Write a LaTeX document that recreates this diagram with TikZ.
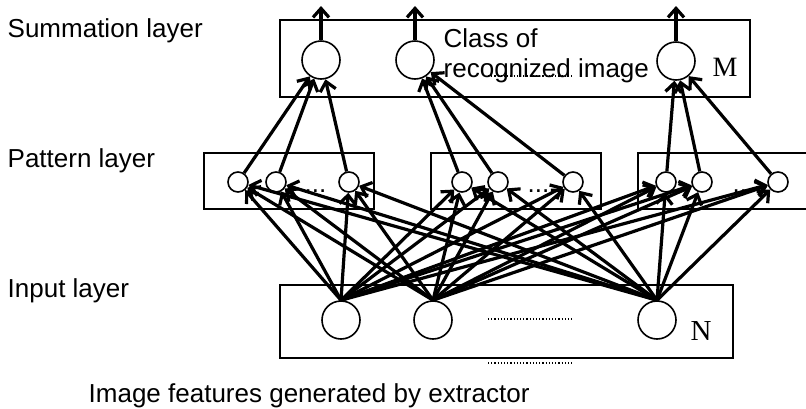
\documentclass[tikz,border=0pt]{standalone}
\usepackage{fontspec}
\setmainfont{Liberation Sans}
\newfontfamily\timesfont{Liberation Serif}
\usetikzlibrary{arrows.meta, positioning, shapes}

\begin{document}
\begin{tikzpicture}[x=1pt, y=-1pt, line width=1.4pt,
	font=\fontsize{26}{30}\selectfont,
	neuron/.style={circle, draw, inner sep=0pt, line width=1.6pt},
	layerbox/.style={draw, rectangle, inner sep=0pt},
	link/.style={line width=3.2pt, -{Straight Barb[length=9pt,width=16pt]}},
	lbl/.style={anchor=base west, inner sep=0pt}]
	\useasboundingbox (0,0) rectangle (806,408);
	
	% layer boxes
	\node[layerbox, minimum width=470, minimum height=77] (sumbox) at (515,58.5) {};
	\node[layerbox, minimum width=170, minimum height=56] (pbox1) at (289,181) {};
	\node[layerbox, minimum width=170, minimum height=56] (pbox2) at (516,181) {};
	\node[layerbox, minimum width=174, minimum height=56] (pbox3) at (725,181) {};
	\node[layerbox, minimum width=453, minimum height=73] (inbox) at (506.5,321.5) {};
	
	% labels
	\node[lbl] (sumlabel) at (7,37) {Summation layer};
	\node[lbl] (patlabel) at (7,167) {Pattern layer};
	\node[lbl] (inlabel) at (7,297) {Input layer};
	\node[lbl] (caption) at (88,402) {Image features generated by extractor};
	\node[lbl] (class1) at (443,47) {Class of};
	\node[lbl] (class2) at (443,77) {recognized image};
	
	% summation layer
	\node[neuron, minimum size=38] (s1) at (321,60) {};
	\node[neuron, minimum size=38] (s2) at (415,60) {};
	\node[neuron, minimum size=38] (s3) at (676,61) {};
	\node[lbl, font=\timesfont\fontsize{28}{32}\selectfont] (m) at (712,76) {M};
	\draw[dotted, line width=1.2pt] (488,76) -- (573,76);
	
	% pattern layer
	\node[neuron, minimum size=20] (p1) at (238,182) {};
	\node[neuron, minimum size=20] (p2) at (276,182) {};
	\node[neuron, minimum size=20] (p3) at (349,182) {};
	\node[neuron, minimum size=20] (p4) at (462,182) {};
	\node[neuron, minimum size=20] (p5) at (498,182) {};
	\node[neuron, minimum size=20] (p6) at (573,182) {};
	\node[neuron, minimum size=20] (p7) at (666,182) {};
	\node[neuron, minimum size=20] (p8) at (702,182) {};
	\node[neuron, minimum size=20] (p9) at (778,182) {};
	\node[lbl] (dots1) at (304,192) {...};
	\node[lbl] (dots2) at (527,192) {...};
	\node[lbl] (dots3) at (732,192) {...};
	
	% input layer
	\node[neuron, minimum size=38] (i1) at (341,320) {};
	\node[neuron, minimum size=38] (i2) at (433,320) {};
	\node[neuron, minimum size=38] (i3) at (657,320) {};
	\node[lbl, font=\timesfont\fontsize{29}{34}\selectfont] (n) at (690,340) {N};
	\draw[dotted, line width=1.2pt] (488,319) -- (573,319);
	\draw[dotted, line width=1.2pt] (488,363) -- (573,363);
	
	% outputs
	\coordinate (o1) at (321,6);
	\coordinate (o2) at (415,6);
	\coordinate (o3) at (676,6);
	\draw[link] (s1) -- (o1);
	\draw[link] (s2) -- (o2);
	\draw[link] (s3) -- (o3);
	
	\path[link] (p1) edge (s1) (p2) edge (s1) (p3) edge (s1);
	\path[link] (p4) edge (s2) (p5) edge (s2) (p6) edge (s2);
	\path[link] (p7) edge (s3) (p8) edge (s3) (p9) edge (s3);
	
	\path[link] (i1.north) edge (p1) edge (p2) edge (p3) edge (p4) edge (p5) edge (p6) edge (p7) edge (p8) edge (p9);
	\path[link] (i2.north) edge (p1) edge (p2) edge (p3) edge (p4) edge (p5) edge (p6) edge (p7) edge (p8) edge (p9);
	\path[link] (i3.north) edge (p1) edge (p2) edge (p3) edge (p4) edge (p5) edge (p6) edge (p7) edge (p8) edge (p9);
	
\end{tikzpicture}
\end{document}
